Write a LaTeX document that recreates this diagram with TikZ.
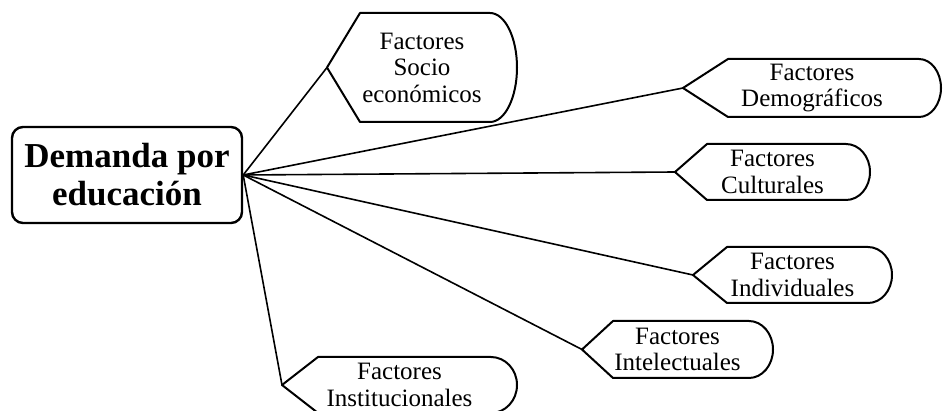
\documentclass[tikz,border=0pt]{standalone}
\usepackage{fontspec}
\setmainfont{Liberation Serif}
\tikzset{
  shapeline/.style={draw=black, line width=2pt, line join=round},
  conn/.style={draw=black, line width=1.6pt},
  factext/.style={align=center, font=\fontsize{25}{26.5}\selectfont, inner sep=0pt},
  mainbox/.style={draw=black, line width=2.4pt, rounded corners=11pt, minimum width=230pt, minimum height=96pt, align=center, font=\fontsize{35}{38}\selectfont\bfseries, inner sep=0pt}
}
% #1 name, #2 tip x, #3 centre y, #4 top-left x, #5 right x, #6 half height, #7 right radius, #8 text
\newcommand\dispbox[8]{%
  \coordinate (#1tip) at (#2,#3);
  \draw[shapeline] (#1tip) -- (#4,#3-#6) -- (#5-#7,#3-#6)
    .. controls (#5-#7+0.5523*#7,#3-#6) and (#5,#3-0.5523*#6) .. (#5,#3)
    .. controls (#5,#3+0.5523*#6) and (#5-#7+0.5523*#7,#3+#6) .. (#5-#7,#3+#6)
    -- (#4,#3+#6) -- cycle;
  \node[factext] (#1) at ({(#2+#5)/2},#3) {#8};
}
\begin{document}
\begin{tikzpicture}[x=1pt,y=-1pt]
\useasboundingbox (0,0) rectangle (943,411);
\fill[white] (0,0) rectangle (943,411);
\node[mainbox] (main) at (127,175) {Demanda por\\educación};
\dispbox{socio}{327}{67.5}{360}{517}{54.5}{27}{Factores\\Socio\\económicos}
\dispbox{demo}{683}{88}{728}{941}{29}{22}{Factores\\Demográficos}
\dispbox{cult}{675}{172}{707}{870}{28}{24}{Factores\\Culturales}
\dispbox{indiv}{693}{275}{727}{892}{28}{24}{Factores\\Individuales}
\dispbox{intel}{582}{349.5}{613}{773}{28.5}{24}{Factores\\Intelectuales}
\dispbox{instit}{282}{385}{318}{517}{28}{26}{Factores\\Institucionales}
\draw[conn] (main.east) -- (sociotip);
\draw[conn] (main.east) -- (demotip);
\draw[conn] (main.east) -- (culttip);
\draw[conn] (main.east) -- (indivtip);
\draw[conn] (main.east) -- (inteltip);
\draw[conn] (main.east) -- (instittip);
\end{tikzpicture}
\end{document}
